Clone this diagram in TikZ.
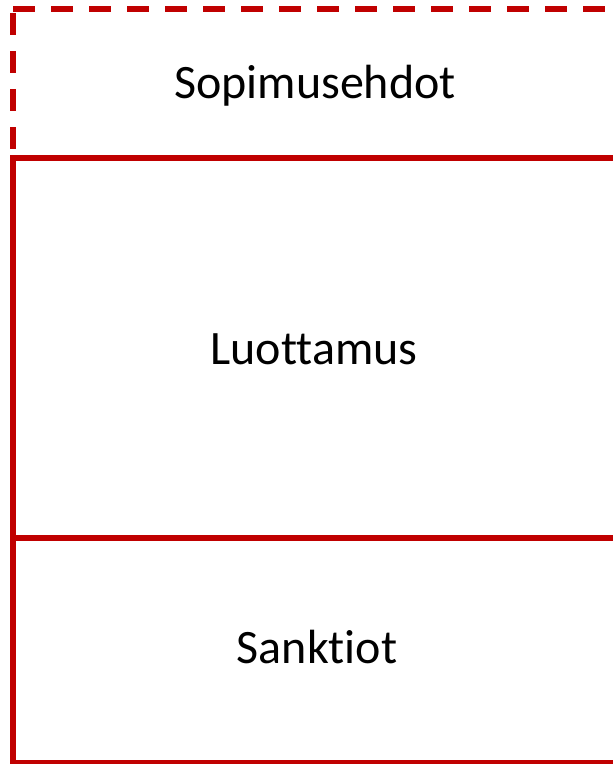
\documentclass[tikz,border=0pt]{standalone}
\usepackage{fontspec}
\setmainfont[Ligatures={NoCommon,NoRare,NoContextual}]{Carlito}
\definecolor{frame}{HTML}{C00000}
\begin{document}
\begin{tikzpicture}[x=1pt,y=-1pt,
  edge/.style={draw=frame,line width=5.3pt},
  dashedge/.style={draw=frame,line width=5.3pt,dash pattern=on 22pt off 16pt},
  lbl/.style={anchor=base,font=\fontsize{48}{57}\selectfont,inner sep=0pt}]
\useasboundingbox (0,0) rectangle (613,764);
% dashed upper frame
\draw[dashedge] (13,9) -- (640,9);
\draw[dashedge] (13,13) -- (13,158);
% solid frame
\draw[edge] (640,158) -- (13,158) -- (13,763) -- (640,763);
\draw[edge] (13,538) -- (640,538);
% labels
\node[lbl] (sop) at (315,98) {Sopimusehdot};
\node[lbl] (luo) at (314,364) {Luottamus};
\node[lbl] (san) at (317,663) {Sanktiot};
\end{tikzpicture}
\end{document}
